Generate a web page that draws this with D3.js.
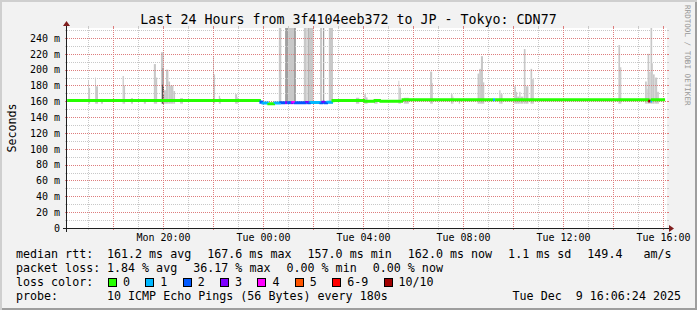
<!DOCTYPE html>
<html>
<head>
<meta charset="utf-8">
<script src="https://cdn.jsdelivr.net/npm/d3@7"></script>
<style>
body { margin: 0; background: #f2f2f2; }
svg { display: block; font-family: "DejaVu Sans Mono", monospace; }
text { white-space: pre; }
</style>
</head>
<body>
<div id="chart"></div>
<script>
"use strict"

// ---- values ----
const title = "Last 24 Hours from 3f4104eeb372 to JP - Tokyo: CDN77";
const yLabel = "Seconds";
const yTicks = [0, 20, 40, 60, 80, 100, 120, 140, 160, 180, 200, 220, 240];
const xLabelTimes = ["Mon 20:00", "Tue 00:00", "Tue 04:00", "Tue 08:00", "Tue 12:00", "Tue 16:00"];

// median rtt: [from, to, ms, loss bucket]
const median = [
    ["Mon 16:10", "Mon 23:55", 161.0, 0],
    ["Mon 23:55", "Tue 00:00", 158.8, 2],
    ["Tue 00:00", "Tue 00:14", 158.0, 1],
    ["Tue 00:14", "Tue 00:29", 157.0, 0],
    ["Tue 00:29", "Tue 00:43", 157.8, 1],
    ["Tue 00:43", "Tue 00:53", 158.3, 2],
    ["Tue 00:53", "Tue 00:58", 158.3, 3],
    ["Tue 00:58", "Tue 01:07", 158.3, 2],
    ["Tue 01:07", "Tue 01:12", 158.3, 3],
    ["Tue 01:12", "Tue 01:17", 158.6, 4],
    ["Tue 01:17", "Tue 01:45", 158.3, 2],
    ["Tue 01:45", "Tue 01:50", 158.6, 3],
    ["Tue 01:50", "Tue 01:55", 158.3, 2],
    ["Tue 01:55", "Tue 02:19", 158.6, 1],
    ["Tue 02:19", "Tue 02:24", 158.3, 2],
    ["Tue 02:24", "Tue 02:29", 158.8, 3],
    ["Tue 02:29", "Tue 02:36", 158.3, 2],
    ["Tue 02:36", "Tue 02:48", 158.8, 1],
    ["Tue 02:48", "Tue 04:05", 161.0, 0],
    ["Tue 04:05", "Tue 04:29", 160.0, 0],
    ["Tue 04:29", "Tue 04:43", 161.0, 0],
    ["Tue 04:43", "Tue 05:36", 160.0, 0],
    ["Tue 05:36", "Tue 09:12", 162.0, 0],
    ["Tue 09:12", "Tue 09:17", 162.0, 1],
    ["Tue 09:17", "Tue 15:28", 162.0, 0],
    ["Tue 15:28", "Tue 15:30", 160.5, 7],
    ["Tue 15:30", "Tue 15:34", 160.5, 1],
    ["Tue 15:34", "Tue 16:05", 162.0, 0]
];

// smoke: [from, to, top ms, density 0 light .. 2 dark]
const smoke = [
    ["Mon 17:00", "Mon 17:02", 187, 0],
    ["Mon 17:02", "Mon 17:05", 177, 0],
    ["Mon 17:17", "Mon 17:19", 190, 0],
    ["Mon 17:19", "Mon 17:24", 179, 0],
    ["Mon 17:31", "Mon 17:36", 163, 0],
    ["Mon 18:23", "Mon 18:26", 192, 0],
    ["Mon 18:26", "Mon 18:29", 180, 0],
    ["Mon 18:43", "Mon 18:48", 164, 0],
    ["Mon 19:14", "Mon 19:19", 163, 0],
    ["Mon 19:38", "Mon 19:43", 207, 0],
    ["Mon 19:43", "Mon 19:46", 190, 0],
    ["Mon 19:55", "Mon 20:02", 222, 0],
    ["Mon 19:58", "Mon 20:02", 202, 1],
    ["Mon 19:58", "Mon 20:02", 181, 2],
    ["Mon 20:02", "Mon 20:07", 174, 0],
    ["Mon 20:07", "Mon 20:13", 200, 0],
    ["Mon 20:13", "Mon 20:17", 185, 0],
    ["Mon 20:17", "Mon 20:25", 180, 0],
    ["Mon 20:25", "Mon 20:29", 173, 0],
    ["Mon 20:41", "Mon 20:48", 164, 0],
    ["Mon 22:00", "Mon 22:02", 217, 0],
    ["Mon 22:02", "Mon 22:05", 194, 0],
    ["Mon 22:14", "Mon 22:17", 167, 0],
    ["Mon 22:17", "Mon 22:19", 164, 0],
    ["Mon 22:53", "Mon 22:58", 169, 0],
    ["Mon 22:58", "Mon 23:00", 165, 0],
    ["Tue 00:38", "Tue 00:44", 280, 0],
    ["Tue 00:53", "Tue 01:01", 280, 1],
    ["Tue 01:01", "Tue 01:14", 280, 0],
    ["Tue 01:14", "Tue 01:19", 280, 1],
    ["Tue 01:38", "Tue 01:45", 280, 0],
    ["Tue 01:47", "Tue 01:50", 280, 1],
    ["Tue 01:50", "Tue 02:01", 280, 0],
    ["Tue 02:17", "Tue 02:22", 280, 0],
    ["Tue 02:24", "Tue 02:27", 280, 1],
    ["Tue 02:38", "Tue 02:48", 280, 0],
    ["Tue 03:43", "Tue 03:51", 164.5, 0],
    ["Tue 04:03", "Tue 04:07", 169, 0],
    ["Tue 04:07", "Tue 04:11", 165, 0],
    ["Tue 04:27", "Tue 04:35", 163, 0],
    ["Tue 05:25", "Tue 05:27", 186, 0],
    ["Tue 05:27", "Tue 05:31", 177, 0],
    ["Tue 05:38", "Tue 05:50", 164.5, 0],
    ["Tue 06:41", "Tue 06:46", 197.5, 0],
    ["Tue 06:46", "Tue 06:48", 183, 0],
    ["Tue 07:31", "Tue 07:35", 169, 0],
    ["Tue 07:35", "Tue 07:37", 166, 0],
    ["Tue 07:50", "Tue 07:53", 163, 0],
    ["Tue 08:35", "Tue 08:39", 195, 0],
    ["Tue 08:39", "Tue 08:43", 201, 0],
    ["Tue 08:43", "Tue 08:48", 217, 0],
    ["Tue 08:48", "Tue 08:51", 184, 0],
    ["Tue 09:27", "Tue 09:30", 174, 0],
    ["Tue 09:30", "Tue 09:35", 169, 0],
    ["Tue 10:03", "Tue 10:07", 179, 0],
    ["Tue 10:07", "Tue 10:10", 172, 0],
    ["Tue 10:10", "Tue 10:15", 166, 0],
    ["Tue 10:15", "Tue 10:18", 172, 0],
    ["Tue 10:18", "Tue 10:25", 166, 0],
    ["Tue 10:26", "Tue 10:30", 226, 0],
    ["Tue 10:30", "Tue 10:37", 179, 0],
    ["Tue 10:42", "Tue 10:46", 201, 0],
    ["Tue 10:46", "Tue 10:50", 188, 0],
    ["Tue 14:13", "Tue 14:17", 231, 0],
    ["Tue 14:17", "Tue 14:20", 203, 0],
    ["Tue 15:17", "Tue 15:21", 185, 0],
    ["Tue 15:21", "Tue 15:23", 176, 0],
    ["Tue 15:23", "Tue 15:27", 220, 0],
    ["Tue 15:27", "Tue 15:30", 197, 0],
    ["Tue 15:30", "Tue 15:34", 280, 0],
    ["Tue 15:34", "Tue 15:36", 208, 0],
    ["Tue 15:36", "Tue 15:40", 194, 0],
    ["Tue 15:41", "Tue 15:46", 190, 0],
    ["Tue 15:46", "Tue 15:50", 172, 0]
];

const lossLabels = ["0", "1", "2", "3", "4", "5", "6-9", "10/10"];
const rttStats = ["161.2 ms avg", "167.6 ms max", "157.0 ms min", "162.0 ms now", "1.1 ms sd", "149.4   am/s"];
const lossStats = ["1.84 % avg", "36.17 % max", "0.00 % min", "0.00 % now"];
const probeText = "10 ICMP Echo Pings (56 Bytes) every 180s";
const stampText = "Tue Dec  9 16:06:24 2025";

// ---- styling (rrdtool / smokeping look) ----
const lossPalette = ["#26ff00", "#00b8ff", "#0059ff", "#7e00ff", "#ff00ff", "#ff5500", "#ff0000", "#a10000"];
const smokeShades = ["#c8c8c8", "#a0a0a0", "#4a4a4a"];
const gridColor = "#c8c8c8";
const mgridColor = "#dd7d7d";

const figWidth = 697;
const figHeight = 310;
const plotBox = {left: 67, top: 28, width: 600, height: 200};
const charW = 7.02;

// "Mon 17:00" -> Date, Mon = 8 Dec 2025
const days = {Mon: "2025-12-08", Tue: "2025-12-09"};
const parseTime = d3.timeParse("%Y-%m-%d %H:%M");
let toDate = s => {
    const [day, hm] = s.split(" ");
    return parseTime(`${days[day]} ${hm}`);
};

const tStart = new Date(2025, 11, 8, 16, 9, 36);
const tEnd = d3.timeHour.offset(tStart, 24);

let xScale = d3.scaleTime()
    .domain([tStart, tEnd])
    .range([plotBox.left, plotBox.left + plotBox.width]);
let yScale = d3.scaleLinear()
    .domain([0, 252.6])
    .range([plotBox.top + plotBox.height, plotBox.top]);

const x0 = plotBox.left, x1 = plotBox.left + plotBox.width;
const yBot = plotBox.top + plotBox.height, yTop = plotBox.top;

let svg = d3.select("#chart").append("svg")
    .attr("width", figWidth)
    .attr("height", figHeight);

// background and 3d frame
svg.append("rect").attr("width", figWidth).attr("height", figHeight).attr("fill", "#f2f2f2");
svg.append("path").attr("fill", "#cfcfcf")
    .attr("d", `M0,0H${figWidth}V2H2V${figHeight}H0Z`);
svg.append("path").attr("fill", "#9e9e9e")
    .attr("d", `M${figWidth},${figHeight}H2V${figHeight - 2}H${figWidth - 2}V2H${figWidth}Z`);

// canvas
svg.append("rect")
    .attr("x", x0).attr("y", yTop)
    .attr("width", plotBox.width).attr("height", plotBox.height)
    .attr("fill", "#ffffff");

svg.append("clipPath").attr("id", "clip")
    .append("rect")
    .attr("x", x0).attr("y", yTop)
    .attr("width", plotBox.width).attr("height", plotBox.height);

// smoke
const smokeBase = 157;
svg.append("g")
    .attr("clip-path", "url(#clip)")
    .selectAll("rect")
    .data(smoke)
    .enter().append("rect")
        .attr("x", d => xScale(toDate(d[0])))
        .attr("width", d => xScale(toDate(d[1])) - xScale(toDate(d[0])))
        .attr("y", d => yScale(d[2]))
        .attr("height", d => yScale(smokeBase) - yScale(d[2]))
        .attr("fill", d => smokeShades[d[3]]);

// grid lines, drawn over the smoke like rrdtool does
let grid = svg.append("g").attr("shape-rendering", "crispEdges");

const yGridVals = d3.range(10, 251, 10);
yGridVals.forEach(v => {
    const y = Math.round(yScale(v)) + 0.5;
    const col = v % 20 == 0 ? mgridColor : gridColor;
    grid.append("line")
        .attr("x1", x0).attr("x2", x1).attr("y1", y).attr("y2", y)
        .attr("stroke", col).attr("stroke-dasharray", "1,1");
    grid.append("line")
        .attr("x1", x0 - 2).attr("x2", x0).attr("y1", y).attr("y2", y).attr("stroke", col);
    grid.append("line")
        .attr("x1", x1).attr("x2", x1 + 2).attr("y1", y).attr("y2", y).attr("stroke", col);
});

const hours = d3.timeHour.range(d3.timeHour.ceil(tStart), tEnd);
hours.forEach(h => {
    const x = Math.round(xScale(h)) + 0.5;
    const col = h.getHours() % 2 == 0 ? mgridColor : gridColor;
    grid.append("line")
        .attr("x1", x).attr("x2", x).attr("y1", yTop).attr("y2", yBot)
        .attr("stroke", col).attr("stroke-dasharray", "1,1");
    grid.append("line")
        .attr("x1", x).attr("x2", x).attr("y1", yBot).attr("y2", yBot + 2).attr("stroke", col);
    grid.append("line")
        .attr("x1", x).attr("x2", x).attr("y1", yTop - 2).attr("y2", yTop).attr("stroke", col);
});

// median rtt, coloured by packet loss
let medianG = svg.append("g").attr("clip-path", "url(#clip)");
median.forEach((d, i) => {
    const xa = xScale(toDate(d[0]));
    const xb = xScale(toDate(d[1]));
    const y = yScale(d[2]);
    const yPrev = i > 0 ? yScale(median[i - 1][2]) : y;
    medianG.append("path")
        .attr("d", `M${xa},${yPrev}V${y}H${xb}`)
        .attr("fill", "none")
        .attr("stroke", lossPalette[d[3]])
        .attr("stroke-width", 3);
});

// axes lines and arrows
let axisG = svg.append("g").attr("shape-rendering", "crispEdges");
axisG.append("line")
    .attr("x1", x0 - 4).attr("x2", x1 + 4).attr("y1", yBot + 0.5).attr("y2", yBot + 0.5)
    .attr("stroke", "#1f1f1f");
axisG.append("line")
    .attr("x1", x0 - 0.5).attr("x2", x0 - 0.5).attr("y1", yBot + 4).attr("y2", yTop - 4)
    .attr("stroke", "#1f1f1f");
svg.append("path").attr("fill", "#801f1f")
    .attr("d", `M${x1 + 2},${yBot - 3}L${x1 + 2},${yBot + 4}L${x1 + 7},${yBot + 0.5}Z`);
svg.append("path").attr("fill", "#801f1f")
    .attr("d", `M${x0 - 4},${yTop - 2}L${x0 + 3},${yTop - 2}L${x0 - 0.5},${yTop - 7}Z`);

// tick labels through d3 axes
let yAxis = d3.axisLeft(yScale)
    .tickValues(yTicks)
    .tickSize(0)
    .tickPadding(7)
    .tickFormat(d => d == 0 ? "0" : `${d} m`);
let yAxisG = svg.append("g")
    .attr("transform", `translate(${x0}, 0)`)
    .call(yAxis);

const fmtTick = d3.timeFormat("%a %H:%M");
let xAxis = d3.axisBottom(xScale)
    .tickValues(xLabelTimes.map(toDate))
    .tickSize(0)
    .tickPadding(6)
    .tickFormat(fmtTick);
let xAxisG = svg.append("g")
    .attr("transform", `translate(0, ${yBot})`)
    .call(xAxis);

[yAxisG, xAxisG].forEach(g => {
    g.select(".domain").remove();
    g.attr("font-family", "DejaVu Sans Mono, monospace")
        .attr("font-size", 10);
    g.selectAll("text").attr("fill", "#000");
});

// title and labels
svg.append("text")
    .attr("x", figWidth / 2)
    .attr("y", 23.5)
    .attr("text-anchor", "middle")
    .attr("font-size", 13.3)
    .text(title);

svg.append("text")
    .attr("transform", `translate(15.5, ${yTop + plotBox.height / 2}) rotate(-90)`)
    .attr("text-anchor", "middle")
    .attr("font-size", 11.67)
    .text(yLabel);

svg.append("text")
    .attr("transform", `translate(684.5, 5) rotate(90)`)
    .attr("font-size", 7.6)
    .attr("fill", "#999999")
    .text("RRDTOOL / TOBI OETIKER");

// legend
let legend = svg.append("g").attr("font-size", 11.67);
const legX = 16, valX = 107, rowY = [257.5, 271.5, 285.5, 299.5];

function legendRow(label, items, y) {
    legend.append("text").attr("x", legX).attr("y", y).text(label);
    let x = valX;
    items.forEach(s => {
        legend.append("text").attr("x", x).attr("y", y).text(s);
        x += (s.length + 2) * charW + 2;
    });
}
legendRow("median rtt:", rttStats, rowY[0]);
legendRow("packet loss:", lossStats, rowY[1]);

legend.append("text").attr("x", legX).attr("y", rowY[2]).text("loss color:");
let bx = 108;
lossLabels.forEach((lab, i) => {
    legend.append("rect")
        .attr("x", bx + 0.5).attr("y", rowY[2] - 7)
        .attr("width", 8).attr("height", 8)
        .attr("fill", lossPalette[i])
        .attr("stroke", "#000")
        .attr("stroke-width", 1)
        .attr("shape-rendering", "crispEdges");
    legend.append("text").attr("x", bx + 15).attr("y", rowY[2]).text(lab);
    bx = bx + 15 + (lab.length + 2) * charW + 1.3;
});

legend.append("text").attr("x", legX).attr("y", rowY[3]).text("probe:");
legend.append("text").attr("x", valX).attr("y", rowY[3]).text(probeText);
legend.append("text").attr("x", 681).attr("y", rowY[3])
    .attr("text-anchor", "end")
    .text(stampText);
</script>
</body>
</html>
